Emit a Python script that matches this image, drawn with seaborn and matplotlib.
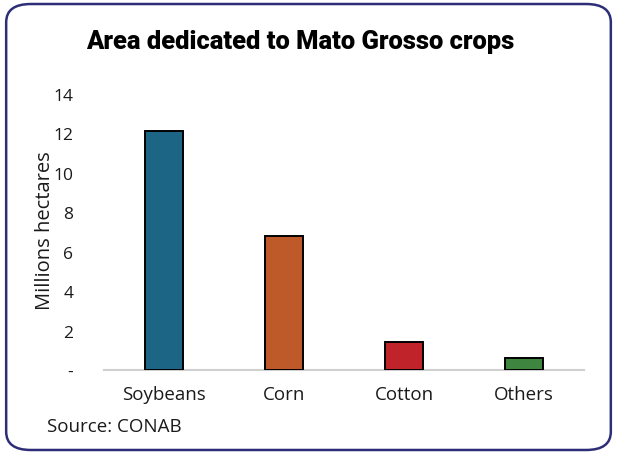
import matplotlib
matplotlib.use("Agg")
import matplotlib.pyplot as plt
from matplotlib.patches import FancyBboxPatch
import seaborn as sns
import pandas as pd

crops = ["Soybeans", "Corn", "Cotton", "Others"]
area_mha = [12.1, 6.8, 1.4, 0.6]
bar_colors = ["#1C6584", "#BE5A2A", "#C1232B", "#3E8540"]
y_ticks = [0, 2, 4, 6, 8, 10, 12, 14]
y_tick_labels = ["-", "2", "4", "6", "8", "10", "12", "14"]

sns.set_theme(style="white")
plt.rcParams["font.family"] = ["Open Sans", "DejaVu Sans"]

df = pd.DataFrame({"crop": crops, "area": area_mha})

fig = plt.figure(figsize=(6.17, 4.56), dpi=100)
ax = fig.add_axes([0.1686, 0.1864, 0.778, 0.6053])

sns.barplot(data=df, x="crop", y="area", hue="crop", palette=bar_colors,
            width=0.31, dodge=False, legend=False, ax=ax,
            edgecolor="black", linewidth=1.4, saturation=1)

ax.set_xlim(-0.5, 3.5)
ax.set_ylim(0, 14)
ax.set_yticks(y_ticks)
ax.set_yticklabels(y_tick_labels, fontsize=12.5, color="#1a1a1a")
ax.tick_params(axis="y", length=0, pad=22)
ax.tick_params(axis="x", length=0, pad=11, labelsize=13.5, labelcolor="#1a1a1a")
ax.set_xlabel("")
ax.set_ylabel("Millions hectares", fontsize=14.5, color="#1a1a1a", labelpad=0)
ax.yaxis.set_label_coords(-0.102, 0.51)
for side in ["top", "right", "left"]:
    ax.spines[side].set_visible(False)
ax.spines["bottom"].set_color("#D0D0D0")
ax.spines["bottom"].set_linewidth(1.5)
ax.spines["bottom"].set_zorder(0)

fig.text(0.486, 0.908, "Area dedicated to Mato Grosso crops",
         family=["Roboto", "DejaVu Sans"], weight="black",
         fontsize=18.4, ha="center", va="center", color="black")

fig.text(0.076, 0.064, "Source: CONAB", fontsize=13.5, ha="left",
         va="center", color="#1a1a1a")

frame = FancyBboxPatch((0.010, 0.011), 0.980, 0.978,
                       boxstyle="round,pad=0,rounding_size=0.04",
                       transform=fig.transFigure, fill=False,
                       edgecolor="#2E2E78", linewidth=1.8)
fig.patches.append(frame)

fig.savefig("out.png", dpi=100)
